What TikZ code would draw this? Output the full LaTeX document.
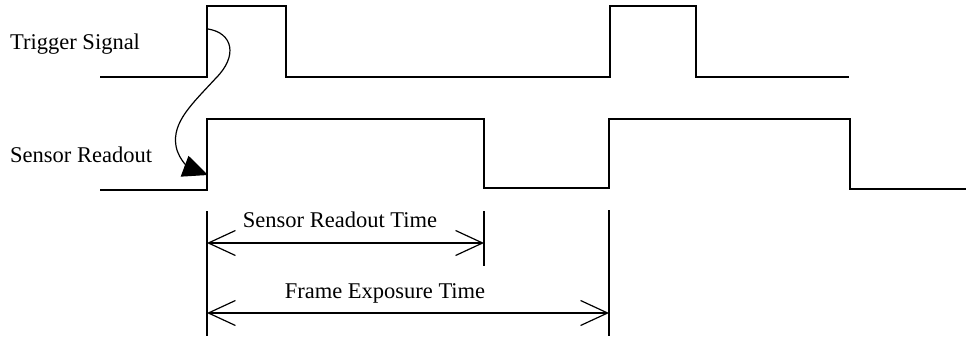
\documentclass[tikz,border=0pt]{standalone}
\usepackage{fontspec}
\setmainfont{Liberation Serif}
\usetikzlibrary{arrows.meta}

\tikzset{
  wave/.style={line width=1.4pt, line join=miter},
  mark line/.style={line width=1.3pt},
  barb/.tip={Straight Barb[length=27pt,width=25pt,line width=1.2pt]},
  dimline/.style={line width=1.2pt, barb-barb},
  siglabel/.style={anchor=base west, inner sep=0pt, font=\fontsize{22.5}{27}\selectfont},
  dimlabel/.style={anchor=base, inner sep=0pt, font=\fontsize{22.5}{27}\selectfont},
}

\begin{document}
\begin{tikzpicture}[x=1pt,y=-1pt]
\useasboundingbox (0,0) rectangle (966,337);
% signal names
\node[siglabel] (trig) at (10,49) {Trigger Signal};
\node[siglabel] (sens) at (10,162) {Sensor Readout};
% trigger pulses
\draw[wave] (100,77) -- (207,77) -- (207,6) -- (286,6) -- (286,77)
  -- (610,77) -- (610,6) -- (696,6) -- (696,77) -- (849,77);
% sensor readout level
\draw[wave] (100,190) -- (207,190) -- (207,119) -- (484,119) -- (484,188)
  -- (609,188) -- (609,119) -- (850,119) -- (850,189) -- (966,189);
% trigger starts the readout
\coordinate (cause) at (208,29);
\coordinate (effect) at (208,175);
\draw[line width=1.2pt, -{Triangle[length=25pt,width=22pt]}] (cause)
  .. controls (233,33) and (238,56) .. (216,78)
  .. controls (192,104) and (172,122) .. (176,146)
  .. controls (179,162) and (192,169) .. (effect);
% time marks
\coordinate (m0a) at (207,211); \coordinate (m0b) at (207,336);
\coordinate (m1a) at (484,211); \coordinate (m1b) at (484,266);
\coordinate (m2a) at (609,210); \coordinate (m2b) at (609,336);
\draw[mark line] (m0a) -- (m0b);
\draw[mark line] (m1a) -- (m1b);
\draw[mark line] (m2a) -- (m2b);
% durations
\coordinate (ro0) at (207,243); \coordinate (ro1) at (484,243);
\coordinate (fe0) at (207,313); \coordinate (fe1) at (609,313);
\draw[dimline] (ro0) -- (ro1);
\draw[dimline] (fe0) -- (fe1);
\node[dimlabel] (rotime) at (340,227) {Sensor Readout Time};
\node[dimlabel] (fetime) at (385,298) {Frame Exposure Time};
\end{tikzpicture}
\end{document}
